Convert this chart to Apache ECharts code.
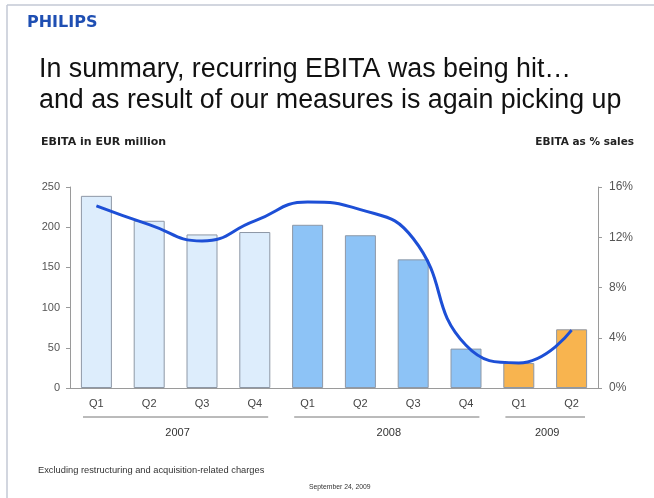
<!DOCTYPE html>
<html>
<head>
<meta charset="utf-8">
<script src="https://cdn.jsdelivr.net/npm/echarts@6/dist/echarts.min.js"></script>
<style>
  html, body { margin: 0; padding: 0; background: #fff; }
  #chart { width: 654px; height: 498px; }
</style>
</head>
<body>
<div id="chart"></div>
<script>
// quarters on the axis, grouped by year underneath
const quarters = ['Q1', 'Q2', 'Q3', 'Q4', 'Q1', 'Q2', 'Q3', 'Q4', 'Q1', 'Q2']
const years = ['2007', '2008', '2009']
const yearFirst = [0, 4, 8]
const yearLast = [3, 7, 9]
// EBITA in EUR million (bars)
const ebita = [239, 208, 191, 194, 203, 190, 160, 49, 31, 73]
// EBITA as % of sales (line)
const ebitaPct = [14.5, 13.0, 11.7, 13.3, 14.8, 14.2, 11.9, 3.4, 2.0, 4.6]

const yearColors = ['#ddedfc', '#8dc3f6', '#f8b44f']
const sans = '"Liberation Sans", Arial, sans-serif'
const dejavu = '"DejaVu Sans", sans-serif'

function yearOf(idx) {
  for (let i = 0; i < years.length; i++) {
    if (idx >= yearFirst[i] && idx <= yearLast[i]) return i
  }
  return 0
}

const chart = echarts.init(document.getElementById('chart'))

const headerGraphics = [
  { type: 'line', shape: { x1: 7, y1: 5, x2: 7, y2: 498 }, style: { stroke: '#c3c8d4', lineWidth: 1.5 } },
  { type: 'line', shape: { x1: 7, y1: 5, x2: 654, y2: 5 }, style: { stroke: '#c3c8d4', lineWidth: 1.5 } },
  {
    type: 'text', left: 27, top: 15,
    style: { text: 'PHILIPS', fill: '#1f4fb3', fontSize: 16, fontWeight: 'bold', fontFamily: dejavu }
  },
  {
    type: 'text', left: 39, top: 56,
    style: { text: 'In summary, recurring EBITA was being hit\u2026', fill: '#111', fontSize: 26.8, fontFamily: sans }
  },
  {
    type: 'text', left: 39, top: 87,
    style: { text: 'and as result of our measures is again picking up', fill: '#111', fontSize: 26.8, fontFamily: sans }
  },
  {
    type: 'text', left: 41, top: 137,
    style: { text: 'EBITA in EUR million', fill: '#222', fontSize: 11, fontWeight: 'bold', fontFamily: dejavu }
  },
  {
    type: 'text', right: 20, top: 137,
    style: { text: 'EBITA as % sales', fill: '#222', fontSize: 10.5, fontWeight: 'bold', fontFamily: dejavu }
  },
  {
    type: 'text', left: 38, top: 466,
    style: { text: 'Excluding restructuring and acquisition-related charges', fill: '#333', fontSize: 9.3, fontFamily: sans }
  },
  {
    type: 'text', left: 309, top: 484,
    style: { text: 'September 24, 2009', fill: '#333', fontSize: 6.8, fontFamily: sans }
  }
]

const option = {
  animation: false,
  backgroundColor: '#fff',
  grid: { left: 70, right: 56, top: 187, bottom: 110 },
  xAxis: {
    type: 'category',
    data: quarters,
    axisLine: { show: true, lineStyle: { color: '#9a9a9a', width: 1 } },
    axisTick: { show: false },
    axisLabel: { color: '#444', fontSize: 11, fontFamily: sans, margin: 10, interval: 0 }
  },
  yAxis: [
    {
      type: 'value',
      min: 0,
      max: 250,
      interval: 50,
      axisLine: { show: true, lineStyle: { color: '#9a9a9a' } },
      axisTick: { show: true, length: 4, lineStyle: { color: '#9a9a9a' } },
      axisLabel: { color: '#555', fontSize: 11, fontFamily: sans, margin: 10 },
      splitLine: { show: false }
    },
    {
      type: 'value',
      min: 0,
      max: 16,
      interval: 4,
      position: 'right',
      axisLine: { show: true, lineStyle: { color: '#9a9a9a' } },
      axisTick: { show: true, length: 4, lineStyle: { color: '#9a9a9a' } },
      axisLabel: { color: '#555', fontSize: 12, fontFamily: sans, margin: 11, formatter: '{value}%' },
      splitLine: { show: false }
    }
  ],
  series: [
    {
      type: 'bar',
      yAxisIndex: 0,
      barWidth: 31,
      data: ebita.map((v, i) => ({
        value: v,
        itemStyle: { color: yearColors[yearOf(i)] }
      })),
      itemStyle: { borderColor: '#8e98a6', borderWidth: 1 }
    },
    {
      type: 'line',
      yAxisIndex: 1,
      data: ebitaPct,
      smooth: 0.5,
      symbol: 'none',
      lineStyle: { color: '#1d4fd6', width: 3 },
      z: 5
    }
  ],
  graphic: headerGraphics
}

chart.setOption(option)

// year brackets below the quarter labels, placed from the axis scale
const c0 = chart.convertToPixel({ xAxisIndex: 0 }, 0)
const c1 = chart.convertToPixel({ xAxisIndex: 0 }, 1)
const half = (c1 - c0) / 2
const baseY = chart.convertToPixel({ yAxisIndex: 0 }, 0)
const groupGraphics = []
years.forEach((yr, i) => {
  const x1 = chart.convertToPixel({ xAxisIndex: 0 }, yearFirst[i]) - half + 13
  const x2 = chart.convertToPixel({ xAxisIndex: 0 }, yearLast[i]) + half - 13
  groupGraphics.push({
    type: 'line',
    shape: { x1: x1, y1: baseY + 29, x2: x2, y2: baseY + 29 },
    style: { stroke: '#777', lineWidth: 1 }
  })
  groupGraphics.push({
    type: 'text',
    x: (x1 + x2) / 2 + 2,
    y: baseY + 45,
    style: {
      text: yr, fill: '#333', fontSize: 11, fontFamily: sans,
      textAlign: 'center', textVerticalAlign: 'middle'
    }
  })
})

chart.setOption({ graphic: headerGraphics.concat(groupGraphics) })

window.addEventListener('resize', () => {
  chart.resize()
})
</script>
</body>
</html>
